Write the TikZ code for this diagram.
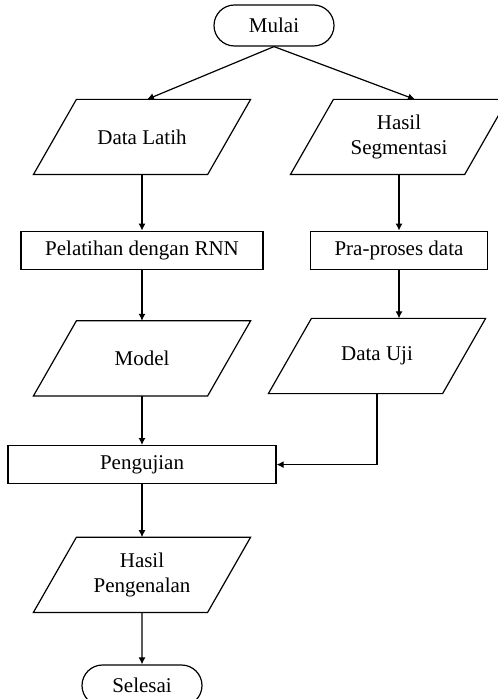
\documentclass[tikz,border=0pt]{standalone}
\usepackage{fontspec}
\setmainfont{Liberation Serif}
\usetikzlibrary{arrows.meta,positioning,shapes.misc}

\begin{document}
\begin{tikzpicture}[
    x=0.5pt, y=-0.5pt,
    font=\fontsize{10.5}{12.5}\selectfont,
    line width=0.6pt,
    terminal/.style={draw, rounded rectangle, minimum width=64pt,
      minimum height=20.5pt, inner sep=2pt},
    process/.style={draw, rectangle, minimum height=19pt, inner sep=2pt},
    io/.style={rectangle, minimum width=108pt, minimum height=37pt,
      align=center, inner sep=2pt},
    arrow/.style={-{Latex[length=3.5pt,width=3.5pt]}}
  ]
  \useasboundingbox (0,0) rectangle (497,699);

  \node[terminal] (mulai) at (274,25.5) {Mulai};
  \node[io] (latih) at (142,137) {Data Latih};
  \node[io] (segmen) at (399,137) {Hasil\\Segmentasi};
  \node[process, minimum width=121pt, below=28pt of latih] (pelatihan) {Pelatihan\ dengan\ RNN};
  \node[process, minimum width=88.5pt, below=28pt of segmen] (praproses) {Pra-proses\ data};
  \node[io, below=25.5pt of pelatihan] (model) {Model};
  \node[io] (uji) at (377,356) {Data Uji};
  \node[process, minimum width=134pt, below=24.5pt of model] (pengujian) {Pengujian};
  \node[io, below=26.5pt of pengujian] (hasil) {Hasil\\Pengenalan};
  \node[terminal, below=26pt of hasil] (selesai) {Selesai};

  % parallelogram outlines of the data nodes
  \foreach \n in {latih,segmen,model,uji,hasil}
    \draw ([xshift=21.5pt]\n.north west) -- (\n.north east)
      -- ([xshift=-21.5pt]\n.south east) -- (\n.south west) -- cycle;

  \draw[arrow] (mulai.south) -- ([xshift=2.5pt]latih.north);
  \draw[arrow] (mulai.south) -- ([xshift=8pt]segmen.north);
  \draw[arrow] (latih) -- (pelatihan);
  \draw[arrow] (segmen) -- (praproses);
  \draw[arrow] (pelatihan) -- (model);
  \draw[arrow] (praproses.south) -- (uji.north -| praproses.south);
  \draw[arrow] (model) -- (pengujian);
  \draw[arrow] (uji.south) |- (pengujian.east);
  \draw[arrow] (pengujian) -- (hasil);
  \draw[arrow] (hasil) -- (selesai);
\end{tikzpicture}
\end{document}
